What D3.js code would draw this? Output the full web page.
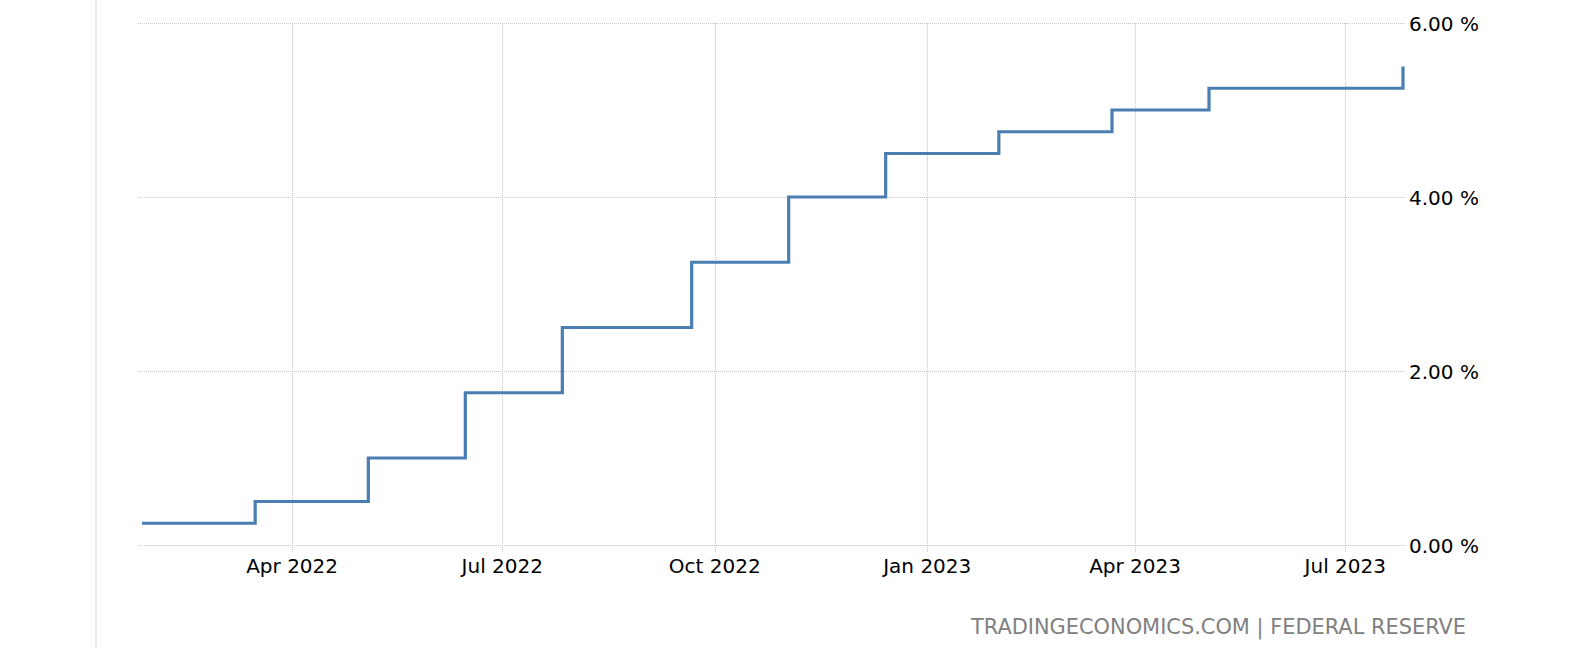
<!DOCTYPE html>
<html><head><meta charset="utf-8">
<script src="https://cdn.jsdelivr.net/npm/d3@7"></script>
<style>
html,body{margin:0;padding:0;background:#fff;}
svg{display:block;}
text{font-family:"DejaVu Sans",sans-serif;}
</style></head>
<body>
<svg id="chart" width="1594" height="649"></svg>
<script>
// Fed funds target (upper bound) at FOMC meeting dates
const dates = ["2022-01-26","2022-03-16","2022-05-04","2022-06-15","2022-07-27","2022-09-21",
  "2022-11-02","2022-12-14","2023-02-01","2023-03-22","2023-05-03","2023-06-14","2023-07-26"];
const rates = [0.25,0.50,1.00,1.75,2.50,3.25,4.00,4.50,4.75,5.00,5.25,5.25,5.50];
const yTicks = [0,2,4,6];
const xTickDates = ["2022-04-01","2022-07-01","2022-10-01","2023-01-01","2023-04-01","2023-07-01"];
const xTickLabels = ["Apr 2022","Jul 2022","Oct 2022","Jan 2023","Apr 2023","Jul 2023"];
const source = "TRADINGECONOMICS.COM | FEDERAL RESERVE";

const parse = d3.utcParse("%Y-%m-%d");
const data = dates.map((d,i)=>({date:parse(d), value:rates[i]}));

const svg = d3.select("#chart");
const x = d3.scaleUtc().domain(d3.extent(data,d=>d.date)).range([142,1403]);
const y = d3.scaleLinear().domain([0,6]).range([545,23]);
const gridLeft = 138, gridRight = 1405;

// left border
svg.append("line").attr("x1",96).attr("x2",96).attr("y1",0).attr("y2",649)
  .attr("stroke","#ececec").attr("stroke-width",2);

// horizontal grid
svg.append("g").selectAll("line").data(yTicks).join("line")
  .attr("x1",gridLeft).attr("x2",gridRight)
  .attr("y1",d=>Math.round(y(d))+0.5).attr("y2",d=>Math.round(y(d))+0.5)
  .attr("stroke","#c8c8c8").attr("stroke-width",1).attr("stroke-dasharray","1,1");

// vertical grid + ticks
const xt = xTickDates.map(parse);
svg.append("g").selectAll("line").data(xt).join("line")
  .attr("x1",d=>Math.round(x(d))+0.5).attr("x2",d=>Math.round(x(d))+0.5)
  .attr("y1",y(6)).attr("y2",y(0)+7)
  .attr("stroke","#c8c8c8").attr("stroke-width",1).attr("stroke-dasharray","1,1");

// x labels
svg.append("g").selectAll("text").data(xt).join("text")
  .attr("x",d=>x(d)).attr("y",y(0)+28).attr("text-anchor","middle")
  .attr("font-size",20).attr("fill","#000")
  .text((d,i)=>xTickLabels[i]);

// y labels
svg.append("g").selectAll("text").data(yTicks).join("text")
  .attr("x",1409).attr("y",d=>y(d)+7.5)
  .attr("font-size",20).attr("fill","#000")
  .text(d=>d3.format(".2f")(d)+" %");

// step line
const line = d3.line().x(d=>x(d.date)).y(d=>y(d.value)).curve(d3.curveStepAfter);
svg.append("path").datum(data).attr("d",line)
  .attr("fill","none").attr("stroke","#4a7eb1").attr("stroke-width",3.2)
  .attr("stroke-linejoin","miter");

// source
svg.append("text").attr("x",1466).attr("y",634).attr("text-anchor","end")
  .attr("font-size",21).attr("fill","#808080")
  .attr("textLength",495).attr("lengthAdjust","spacingAndGlyphs")
  .text(source);
</script>
</body></html>
